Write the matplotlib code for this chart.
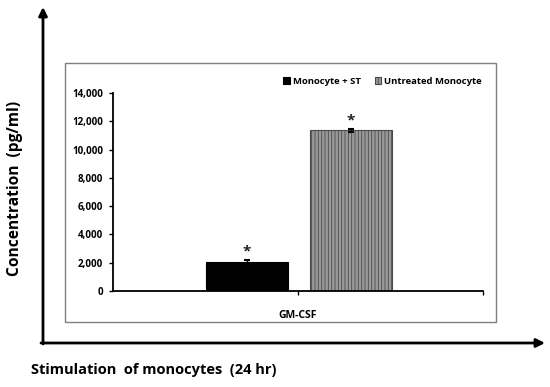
import matplotlib.pyplot as plt
from matplotlib.patches import Rectangle, FancyArrowPatch

plt.rcParams["font.family"] = ["Open Sans", "DejaVu Sans"]
plt.rcParams["hatch.linewidth"] = 0.6

categories = ["GM-CSF"]
series_names = ["Monocyte + ST", "Untreated Monocyte"]
values = [2050, 11350]
errors = [150, 80]
y_ticks = [0, 2000, 4000, 6000, 8000, 10000, 12000, 14000]
y_tick_labels = ["0", "2,000", "4,000", "6,000", "8,000", "10,000", "12,000", "14,000"]

W, H = 550, 387
fig = plt.figure(figsize=(5.5, 3.87), dpi=100)


def fx(px):
    return px / W


def fy(py):
    return 1 - py / H


# outer arrows
fig.add_artist(FancyArrowPatch((fx(43), fy(344)), (fx(43), fy(7)), transform=fig.transFigure,
                               arrowstyle="-|>,head_length=5,head_width=2.5", lw=2, color="black",
                               shrinkA=0, shrinkB=0))
fig.add_artist(FancyArrowPatch((fx(41), fy(343)), (fx(545), fy(343)), transform=fig.transFigure,
                               arrowstyle="-|>,head_length=5,head_width=2.5", lw=2, color="black",
                               shrinkA=0, shrinkB=0))

# inner chart frame
fig.add_artist(Rectangle((fx(65), fy(322)), fx(496) - fx(65), fy(63) - fy(322),
                         transform=fig.transFigure, fill=False, ec="#7f7f7f", lw=1))

ax = fig.add_axes([fx(113), fy(291), fx(483) - fx(113), fy(93) - fy(291)])
offsets = [-0.139, 0.143]
width = 0.222
styles = [dict(color="black", edgecolor="black"),
          dict(facecolor="#9a9a9a", edgecolor="#4a4a4a", hatch="|||||")]
for i, name in enumerate(series_names):
    ax.bar(offsets[i], values[i], width=width, label=name, linewidth=0.8, **styles[i],
           yerr=errors[i], error_kw=dict(ecolor="black", capsize=2, elinewidth=1, capthick=1.5))
    ax.text(offsets[i], values[i] + errors[i] + 120, "*", ha="center", va="bottom",
            fontsize=11, fontweight="bold", color="#222222")

ax.set_xlim(-0.5, 0.5)
ax.set_ylim(0, 14000)
ax.set_yticks(y_ticks)
ax.set_yticklabels(y_tick_labels, fontsize=7, fontweight="bold")
ax.set_xticks([0, 0.5])
ax.set_xticklabels([categories[0], ""], fontsize=7.5, fontweight="bold")
ax.tick_params(axis="y", length=3, width=1, pad=4)
ax.tick_params(axis="x", length=3, width=1, pad=11)
for s in ["top", "right"]:
    ax.spines[s].set_visible(False)
for s in ["left", "bottom"]:
    ax.spines[s].set_linewidth(1.3)
ax.set_facecolor("none")

ax.legend(loc="upper right", bbox_to_anchor=(1.02, 1.125), ncol=2, frameon=False,
          prop=dict(size=6.8, weight="bold"), handlelength=0.7, handleheight=0.7,
          handletextpad=0.3, columnspacing=1.5)

fig.text(fx(15), fy(188), "Concentration  (pg/ml)", rotation=90, ha="center", va="center",
         fontsize=11.2, fontweight="bold")
fig.text(fx(154), fy(370), "Stimulation  of monocytes  (24 hr)", ha="center", va="center",
         fontsize=10.5, fontweight="bold")

fig.savefig("out.png", dpi=100)
